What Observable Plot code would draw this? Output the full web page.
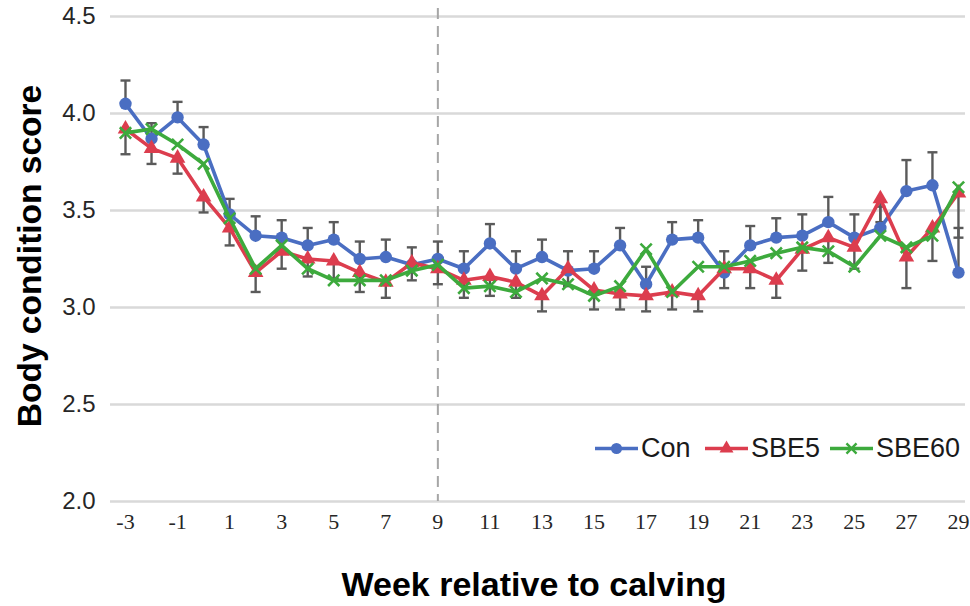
<!DOCTYPE html>
<html><head><meta charset="utf-8">
<script src="https://cdn.jsdelivr.net/npm/d3@7"></script>
<script src="https://cdn.jsdelivr.net/npm/@observablehq/plot@0.6"></script>
<style>
html,body{margin:0;padding:0;background:#fff;}
#wrap{position:relative;width:970px;height:606px;overflow:hidden;font-family:"Liberation Sans",Arial,sans-serif;}
#wrap > svg{position:absolute;left:0;top:0;}
.ytitle{position:absolute;left:30px;top:256px;transform:translate(-50%,-50%) rotate(-90deg);font-weight:bold;font-size:33.5px;white-space:nowrap;color:#000;line-height:1;}
.xtitle{position:absolute;left:534px;top:584px;transform:translate(-50%,-50%);font-weight:bold;font-size:34px;white-space:nowrap;color:#000;}
.leg{position:absolute;top:448px;transform:translateY(-50%);display:flex;align-items:center;font-size:27px;color:#1a1a1a;white-space:nowrap;}
.leg svg{display:block;margin-right:3px;}
</style></head>
<body>
<div id="wrap"></div>
<script>
const weeks = [-3,-2,-1,0,1,2,3,4,5,6,7,8,9,10,11,12,13,14,15,16,17,18,19,20,21,22,23,24,25,26,27,28,29];
const con   = [4.05,3.87,3.98,3.84,3.48,3.37,3.36,3.32,3.35,3.25,3.26,3.22,3.25,3.20,3.33,3.20,3.26,3.19,3.20,3.32,3.12,3.35,3.36,3.18,3.32,3.36,3.37,3.44,3.36,3.41,3.60,3.63,3.18];
const sbe5  = [3.92,3.82,3.77,3.57,3.41,3.18,3.29,3.25,3.24,3.18,3.13,3.23,3.20,3.14,3.16,3.13,3.06,3.20,3.09,3.07,3.06,3.08,3.06,3.20,3.20,3.14,3.30,3.36,3.31,3.56,3.26,3.41,3.59];
const sbe60 = [3.90,3.92,3.84,3.74,3.46,3.20,3.32,3.20,3.14,3.14,3.14,3.19,3.22,3.10,3.11,3.08,3.15,3.12,3.06,3.11,3.30,3.08,3.21,3.21,3.24,3.28,3.31,3.29,3.21,3.37,3.31,3.37,3.62];
const conSE  = [0.12,0.08,0.08,0.09,0.08,0.10,0.09,0.09,0.09,0.09,0.09,0.09,0.09,0.09,0.10,0.09,0.09,0.10,0.09,0.09,0.09,0.09,0.09,0.11,0.10,0.10,0.11,0.13,0.12,0.11,0.16,0.17,0.23];
const sbe5SE = [0.13,0.08,0.08,0.08,0.09,0.10,0.09,0.09,0.09,0.10,0.08,0.09,0.08,0.09,0.10,0.08,0.08,0.09,0.10,0.08,0.08,0.09,0.08,0.10,0.10,0.09,0.11,0.13,0.11,0.12,0.16,0.17,0.23];
const groups = ["Con","SBE5","SBE60"];
const colors = ["#4A6EC2","#DC3D4E","#3DAA3D"];
const yTicks = [2.0,2.5,3.0,3.5,4.0,4.5];
const xTicks = [-3,-1,1,3,5,7,9,11,13,15,17,19,21,23,25,27,29];
const markerWeek = 9;
const yLabel = "Body condition score";
const xLabel = "Week relative to calving";

const seriesValues = [con, sbe5, sbe60];
const rows = groups.flatMap((g, gi) => weeks.map((w, i) => ({week: w, group: g, value: seriesValues[gi][i]})));
const bars = weeks.map((w, i) => ({week: w, from: con[i], to: con[i] + conSE[i]}))
  .concat(weeks.map((w, i) => ({week: w, from: sbe5[i], to: sbe5[i] - sbe5SE[i]})));

const cap = {draw(ctx, size) { const w = Math.sqrt(size / Math.PI); ctx.moveTo(-w, 0); ctx.lineTo(w, 0); }};
const symbols = ["circle", "triangle", "times"];
const symR = [6.2, 5.8, 5.2];

const seriesMarks = groups.flatMap((g, i) => {
  const data = rows.filter(d => d.group === g);
  const dotOpts = symbols[i] === "times"
    ? {x: "week", y: "value", symbol: "times", r: symR[i], stroke: "group", strokeWidth: 2.6, fill: "none"}
    : {x: "week", y: "value", symbol: symbols[i], r: symR[i], fill: "group", stroke: "none"};
  return [
    Plot.line(data, {x: "week", y: "value", stroke: "group", strokeWidth: 3.6}),
    Plot.dot(data, dotOpts)
  ];
});

const chart = Plot.plot({
  width: 970, height: 606,
  marginTop: 16, marginBottom: 105, marginLeft: 110, marginRight: 5,
  x: {domain: [-3.576, 29.27]},
  y: {domain: [2, 4.5]},
  color: {domain: groups, range: colors},
  style: {fontFamily: "'Liberation Sans', Arial, sans-serif", color: "#262626", background: "transparent", overflow: "visible"},
  marks: [
    Plot.ruleY(yTicks, {stroke: "#d9d9d9", strokeWidth: 2.5}),
    Plot.ruleX([markerWeek], {stroke: "#a6a6a6", strokeWidth: 2, strokeDasharray: "11,7", insetTop: -8}),
    Plot.ruleX(bars, {x: "week", y1: "from", y2: "to", stroke: "#5a5a5a", strokeWidth: 2.4}),
    Plot.dot(bars, {x: "week", y: "to", symbol: cap, r: 5, stroke: "#5a5a5a", strokeWidth: 2.4, fill: "none"}),
    ...seriesMarks,
    Plot.axisY({ticks: yTicks, tickFormat: d3.format(".1f"), tickSize: 0, tickPadding: 15, fontSize: 24, label: null}),
    Plot.axisX({ticks: xTicks, tickFormat: d => String(d), tickSize: 0, tickPadding: 12, fontSize: 22, fontFamily: "'Liberation Serif', 'Times New Roman', serif", label: null})
  ]
});

const wrap = document.getElementById("wrap");
wrap.appendChild(chart);

const yt = document.createElement("div"); yt.className = "ytitle"; yt.textContent = yLabel; wrap.appendChild(yt);
const xt = document.createElement("div"); xt.className = "xtitle"; xt.textContent = xLabel; wrap.appendChild(xt);

const legLeft = [595, 705, 830];
groups.forEach((g, i) => {
  const item = document.createElement("div");
  item.className = "leg";
  item.style.left = legLeft[i] + "px";
  const sw = d3.create("svg").attr("width", 43).attr("height", 20);
  sw.append("line").attr("x1", 0).attr("x2", 43).attr("y1", 10).attr("y2", 10).attr("stroke", colors[i]).attr("stroke-width", 3.6);
  const sym = {circle: d3.symbolCircle, triangle: d3.symbolTriangle, times: d3.symbolTimes}[symbols[i]];
  const p = sw.append("path").attr("transform", "translate(21.5,10)").attr("d", d3.symbol(sym, Math.PI * symR[i] * symR[i] * 0.8)());
  if (symbols[i] === "times") p.attr("fill", "none").attr("stroke", colors[i]).attr("stroke-width", 2.4);
  else p.attr("fill", colors[i]);
  item.appendChild(sw.node());
  const t = document.createElement("span"); t.textContent = g; item.appendChild(t);
  wrap.appendChild(item);
});
</script>
</body></html>
